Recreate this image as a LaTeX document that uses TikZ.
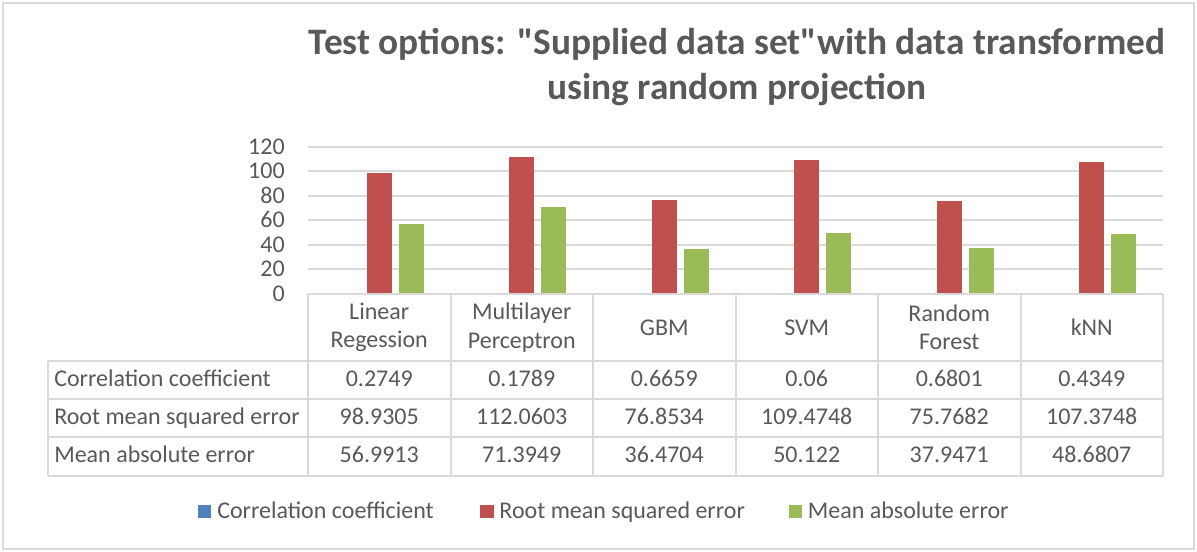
\documentclass[tikz,border=0pt]{standalone}
\usepackage{fontspec}
\newfontfamily\chartfont{Carlito}
\usepackage{xcolor}
\usetikzlibrary{positioning}
\definecolor{chartText}{HTML}{595959}
\definecolor{chartGrid}{HTML}{D9D9D9}
\definecolor{ccBlue}{HTML}{4F81BD}
\definecolor{rmseRed}{HTML}{C0504D}
\definecolor{maeGreen}{HTML}{9BBB59}

\begin{document}
\begin{tikzpicture}[
  x=0.75pt,y=-0.75pt,
  font=\chartfont\fontsize{18}{21.2}\selectfont,
  every node/.style={text=chartText,inner sep=0pt},
  titleText/.style={font=\chartfont\fontsize{28}{33}\selectfont\bfseries,anchor=base},
  frameLine/.style={chartGrid,line width=1.5pt},
  gridLine/.style={chartGrid,line width=1.5pt},
  tableLine/.style={chartGrid,line width=1.5pt},
  axisLabel/.style={anchor=base east},
  headCell/.style={align=center,anchor=center},
  rowLabel/.style={anchor=base west},
  valueCell/.style={anchor=base},
  legendBox/.style={minimum size=9.9pt},
  legendText/.style={anchor=base west}]

  \useasboundingbox[fill=white] (0,0) rectangle (1197,552);
  \draw[frameLine] (3,3) rectangle (1194,549);

  % title
  \node[titleText] (title1) at (737,55) {Test options: "Supplied data set"with data transformed};
  \node[titleText] (title2) at (737,100) {using random projection};

  % grid and axis labels
  \foreach \v in {20,40,...,120}
    \draw[gridLine] (308,{294-1.225*\v}) -- (1163,{294-1.225*\v});
  \foreach \v in {0,20,...,120}
    \node[axisLabel] (yl\v) at (285,{294-1.225*\v+7.5}) {\v};

  % bars
  \foreach \cc/\rmse/\mae [count=\i] in {0.2749/98.9305/56.9913, 0.1789/112.0603/71.3949,
      0.6659/76.8534/36.4704, 0.06/109.4748/50.122, 0.6801/75.7682/37.9471, 0.4349/107.3748/48.6807}{
    \pgfmathsetmacro\xc{379.25+142.5*(\i-1)}
    \fill[ccBlue] ({\xc-44.5},294) rectangle ({\xc-19.5},{294-1.225*\cc});
    \fill[rmseRed] ({\xc-12.5},294) rectangle ({\xc+12.5},{294-1.225*\rmse});
    \fill[maeGreen] ({\xc+19.5},294) rectangle ({\xc+44.5},{294-1.225*\mae});
  }

  % data table
  \draw[tableLine] (308,294) -- (1163,294);
  \foreach \ry in {361,399,437,476}
    \draw[tableLine] (48,\ry) -- (1163,\ry);
  \draw[tableLine] (48,361) -- (48,476);
  \foreach \k in {0,...,6}
    \draw[tableLine] ({308+142.5*\k},294) -- ({308+142.5*\k},476);

  \foreach \h [count=\i] in {Linear\\Regession, Multilayer\\Perceptron, GBM, SVM, Random\\Forest, kNN}
    \node[headCell] (hd\i) at ({379.25+142.5*(\i-1)},327.5) {\h};

  \foreach \lbl/\vals [count=\r] in {Correlation coefficient/{0.2749,0.1789,0.6659,0.06,0.6801,0.4349},
      Root mean squared error/{98.9305,112.0603,76.8534,109.4748,75.7682,107.3748},
      Mean absolute error/{56.9913,71.3949,36.4704,50.122,37.9471,48.6807}}{
    \node[rowLabel] (rl\r) at (54,{387+37.9*(\r-1)}) {\lbl};
    \foreach \val [count=\c] in \vals
      \node[valueCell] (cell\r-\c) at ({379.25+142.5*(\c-1)},{387+37.9*(\r-1)}) {\val};
  }

  % legend
  \node[legendBox,fill=ccBlue] (boxCC) at (204.8,511.5) {};
  \node[legendText,right=4pt of boxCC.south east,anchor=base west] (lgCC) {Correlation coefficient};
  \node[legendBox,fill=rmseRed] (boxRMSE) at (487,511.5) {};
  \node[legendText,right=4pt of boxRMSE.south east,anchor=base west] (lgRMSE) {Root mean squared error};
  \node[legendBox,fill=maeGreen] (boxMAE) at (795.5,511.5) {};
  \node[legendText,right=4pt of boxMAE.south east,anchor=base west] (lgMAE) {Mean absolute error};

\end{tikzpicture}
\end{document}
